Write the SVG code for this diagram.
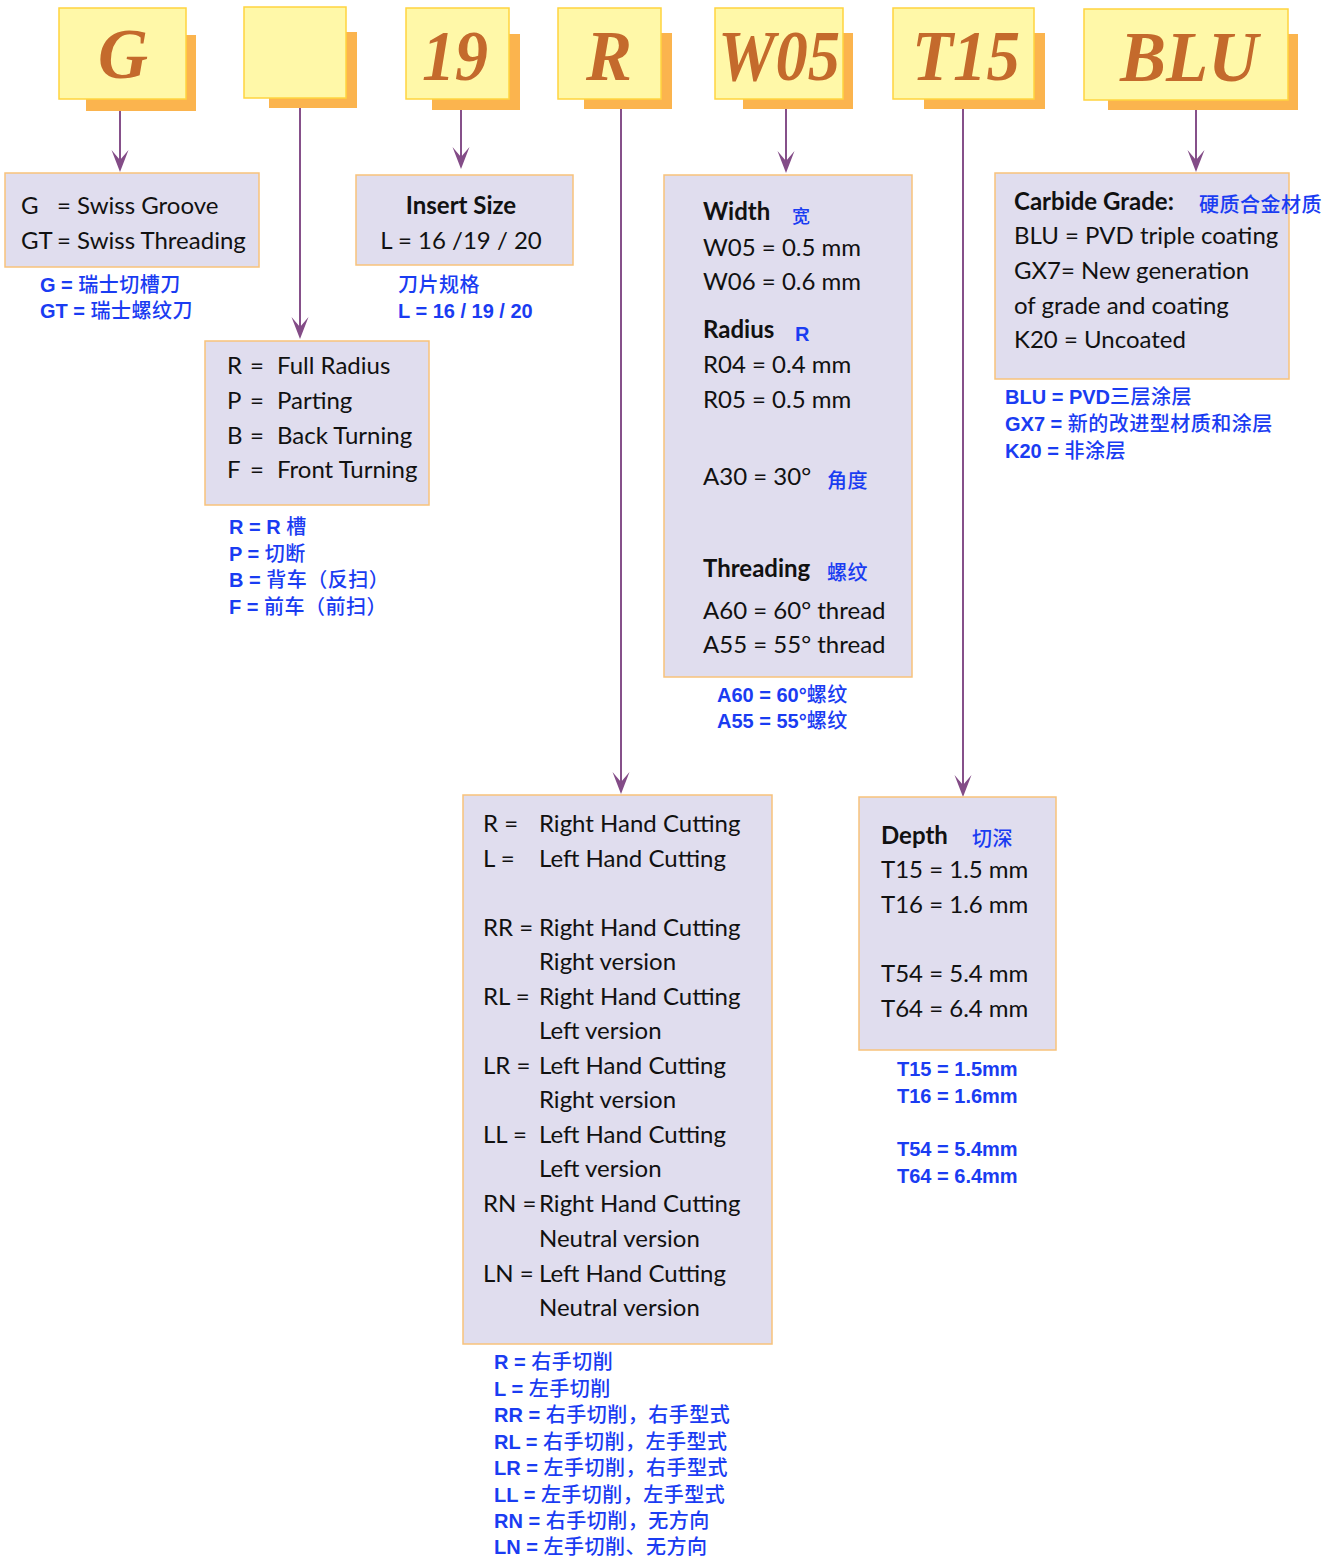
<svg xmlns="http://www.w3.org/2000/svg" width="1338" height="1557" viewBox="0 0 1338 1557">
<style>
.front{fill:#FFF8A8;stroke:#FFD43F;stroke-width:1.5}
.shadow{fill:#FBB44E}
.code{font-family:"Liberation Serif",serif;font-weight:bold;font-style:italic;font-size:72px;fill:#C46A2C;text-anchor:middle}
.box{fill:#E0DDEE;stroke:#F8C27B;stroke-width:1.5}
.t{font-family:Lato,"Open Sans",sans-serif;font-size:24px;fill:#111}
.b{font-weight:bold}
.blue{font-family:"Liberation Sans","Noto Sans CJK SC",sans-serif;font-weight:bold;font-size:20px;fill:#1A3CF2}
.bc{font-family:"Noto Sans CJK SC",sans-serif;font-weight:500;font-size:20px;letter-spacing:0.5px;fill:#1A3CF2}
.conn line{stroke:#86508A;stroke-width:2;marker-end:url(#ah)}
</style>
<defs>
<marker id="ah" viewBox="-23 -10 24 20" refX="-12" refY="0" markerWidth="24" markerHeight="20" markerUnits="userSpaceOnUse" orient="auto">
<path d="M0,0 L-22,-8.5 L-12,0 L-22,8.5 Z" fill="#834C87"/>
</marker>
</defs>
<rect width="1338" height="1557" fill="#FFFFFF"/>

<g id="code-G">
<rect class="shadow" x="86" y="35" width="110" height="76"/>
<rect class="front" x="59" y="8" width="127" height="91"/>
<text class="code" x="123" y="78" textLength="50" lengthAdjust="spacingAndGlyphs">G</text>
</g>
<g id="code-blank">
<rect class="shadow" x="269" y="32" width="88" height="76"/>
<rect class="front" x="244" y="7" width="102" height="91"/>
</g>
<g id="code-19">
<rect class="shadow" x="432" y="34" width="88" height="76"/>
<rect class="front" x="406" y="8" width="103" height="91"/>
<text class="code" x="455" y="80" textLength="66" lengthAdjust="spacingAndGlyphs">19</text>
</g>
<g id="code-R">
<rect class="shadow" x="584" y="33" width="88" height="76"/>
<rect class="front" x="558" y="8" width="103" height="91"/>
<text class="code" x="609" y="80" textLength="46" lengthAdjust="spacingAndGlyphs">R</text>
</g>
<g id="code-W05">
<rect class="shadow" x="743" y="33" width="110" height="76"/>
<rect class="front" x="715" y="8" width="128" height="91"/>
<text class="code" x="779" y="80" textLength="122" lengthAdjust="spacingAndGlyphs">W05</text>
</g>
<g id="code-T15">
<rect class="shadow" x="924" y="33" width="121" height="76"/>
<rect class="front" x="893" y="8" width="141" height="91"/>
<text class="code" x="966" y="80" textLength="108" lengthAdjust="spacingAndGlyphs">T15</text>
</g>
<g id="code-BLU">
<rect class="shadow" x="1108" y="34" width="190" height="76"/>
<rect class="front" x="1084" y="9" width="204" height="91"/>
<text class="code" x="1189" y="81" textLength="138" lengthAdjust="spacingAndGlyphs">BLU</text>
</g>

<g id="connectors" class="conn">
<line x1="120" y1="111" x2="120" y2="160"/>
<line x1="300" y1="108" x2="300" y2="327"/>
<line x1="461" y1="110" x2="461" y2="157"/>
<line x1="621" y1="109" x2="621" y2="782"/>
<line x1="786" y1="109" x2="786" y2="161"/>
<line x1="963" y1="109" x2="963" y2="785"/>
<line x1="1196" y1="110" x2="1196" y2="160"/>
</g>

<g id="box-type">
<rect class="box" x="5" y="173" width="254" height="94"/>
<text class="t" x="21" y="214">G</text>
<text class="t" x="57" y="214">= Swiss Groove</text>
<text class="t" x="21" y="249">GT</text>
<text class="t" x="57" y="249">= Swiss Threading</text>
<text class="blue" x="40" y="292">G = <tspan class="bc">瑞士切槽刀</tspan></text>
<text class="blue" x="40" y="318">GT = <tspan class="bc">瑞士螺纹刀</tspan></text>
</g>

<g id="box-shape">
<rect class="box" x="205" y="341" width="224" height="164"/>
<text class="t" x="227" y="374">R</text><text class="t" x="250" y="374">=</text><text class="t" x="277" y="374">Full Radius</text>
<text class="t" x="227" y="409">P</text><text class="t" x="250" y="409">=</text><text class="t" x="277" y="409">Parting</text>
<text class="t" x="227" y="444">B</text><text class="t" x="250" y="444">=</text><text class="t" x="277" y="444">Back Turning</text>
<text class="t" x="227" y="478">F</text><text class="t" x="250" y="478">=</text><text class="t" x="277" y="478">Front Turning</text>
<text class="blue" x="229" y="534">R = R <tspan class="bc">槽</tspan></text>
<text class="blue" x="229" y="561">P = <tspan class="bc">切断</tspan></text>
<text class="blue" x="229" y="587">B = <tspan class="bc">背车（反扫）</tspan></text>
<text class="blue" x="229" y="614">F = <tspan class="bc">前车（前扫）</tspan></text>
</g>

<g id="box-size">
<rect class="box" x="356" y="175" width="217" height="90"/>
<text class="t b" x="461" y="214" text-anchor="middle">Insert Size</text>
<text class="t" x="461" y="249" text-anchor="middle">L = 16 /19 / 20</text>
<text class="bc" x="398" y="292">刀片规格</text>
<text class="blue" x="398" y="318">L = 16 / 19 / 20</text>
</g>

<g id="box-width">
<rect class="box" x="664" y="175" width="248" height="502"/>
<text class="t b" x="703" y="220">Width</text>
<text class="bc" x="792" y="223" style="font-size:18px">宽</text>
<text class="t" x="703" y="256">W05 = 0.5 mm</text>
<text class="t" x="703" y="290">W06 = 0.6 mm</text>
<text class="t b" x="703" y="338">Radius</text>
<text class="blue" x="795" y="341">R</text>
<text class="t" x="703" y="373">R04 = 0.4 mm</text>
<text class="t" x="703" y="408">R05 = 0.5 mm</text>
<text class="t" x="703" y="485">A30 = 30°</text>
<text class="bc" x="827" y="488">角度</text>
<text class="t b" x="703" y="577">Threading</text>
<text class="bc" x="827" y="580">螺纹</text>
<text class="t" x="703" y="619">A60 = 60° thread</text>
<text class="t" x="703" y="653">A55 = 55° thread</text>
<text class="blue" x="717" y="702">A60 = 60°<tspan class="bc">螺纹</tspan></text>
<text class="blue" x="717" y="728">A55 = 55°<tspan class="bc">螺纹</tspan></text>
</g>

<g id="box-grade">
<rect class="box" x="995" y="173" width="294" height="206"/>
<text class="t b" x="1014" y="210">Carbide Grade:</text>
<text class="bc" x="1199" y="212">硬质合金材质</text>
<text class="t" x="1014" y="244">BLU = PVD triple coating</text>
<text class="t" x="1014" y="279">GX7= New generation</text>
<text class="t" x="1014" y="314">of grade and coating</text>
<text class="t" x="1014" y="348">K20 = Uncoated</text>
<text class="blue" x="1005" y="404">BLU = PVD<tspan class="bc">三层涂层</tspan></text>
<text class="blue" x="1005" y="431">GX7 = <tspan class="bc">新的改进型材质和涂层</tspan></text>
<text class="blue" x="1005" y="458">K20 = <tspan class="bc">非涂层</tspan></text>
</g>

<g id="box-hand">
<rect class="box" x="463" y="795" width="309" height="549"/>
<text class="t" x="483" y="832">R =</text><text class="t" x="539" y="832">Right Hand Cutting</text>
<text class="t" x="483" y="867">L =</text><text class="t" x="539" y="867">Left Hand Cutting</text>
<text class="t" x="483" y="936">RR =</text><text class="t" x="539" y="936">Right Hand Cutting</text>
<text class="t" x="539" y="970">Right version</text>
<text class="t" x="483" y="1005">RL =</text><text class="t" x="539" y="1005">Right Hand Cutting</text>
<text class="t" x="539" y="1039">Left version</text>
<text class="t" x="483" y="1074">LR =</text><text class="t" x="539" y="1074">Left Hand Cutting</text>
<text class="t" x="539" y="1108">Right version</text>
<text class="t" x="483" y="1143">LL =</text><text class="t" x="539" y="1143">Left Hand Cutting</text>
<text class="t" x="539" y="1177">Left version</text>
<text class="t" x="483" y="1212">RN =</text><text class="t" x="539" y="1212">Right Hand Cutting</text>
<text class="t" x="539" y="1247">Neutral version</text>
<text class="t" x="483" y="1282">LN =</text><text class="t" x="539" y="1282">Left Hand Cutting</text>
<text class="t" x="539" y="1316">Neutral version</text>
<text class="blue" x="494" y="1369">R = <tspan class="bc">右手切削</tspan></text>
<text class="blue" x="494" y="1396">L = <tspan class="bc">左手切削</tspan></text>
<text class="blue" x="494" y="1422">RR = <tspan class="bc">右手切削，右手型式</tspan></text>
<text class="blue" x="494" y="1449">RL = <tspan class="bc">右手切削，左手型式</tspan></text>
<text class="blue" x="494" y="1475">LR = <tspan class="bc">左手切削，右手型式</tspan></text>
<text class="blue" x="494" y="1502">LL = <tspan class="bc">左手切削，左手型式</tspan></text>
<text class="blue" x="494" y="1528">RN = <tspan class="bc">右手切削，无方向</tspan></text>
<text class="blue" x="494" y="1554">LN = <tspan class="bc">左手切削、无方向</tspan></text>
</g>

<g id="box-depth">
<rect class="box" x="859" y="797" width="197" height="253"/>
<text class="t b" x="881" y="844">Depth</text>
<text class="bc" x="972" y="846">切深</text>
<text class="t" x="881" y="878">T15 = 1.5 mm</text>
<text class="t" x="881" y="913">T16 = 1.6 mm</text>
<text class="t" x="881" y="982">T54 = 5.4 mm</text>
<text class="t" x="881" y="1017">T64 = 6.4 mm</text>
<text class="blue" x="897" y="1076">T15 = 1.5mm</text>
<text class="blue" x="897" y="1103">T16 = 1.6mm</text>
<text class="blue" x="897" y="1156">T54 = 5.4mm</text>
<text class="blue" x="897" y="1183">T64 = 6.4mm</text>
</g>
</svg>
